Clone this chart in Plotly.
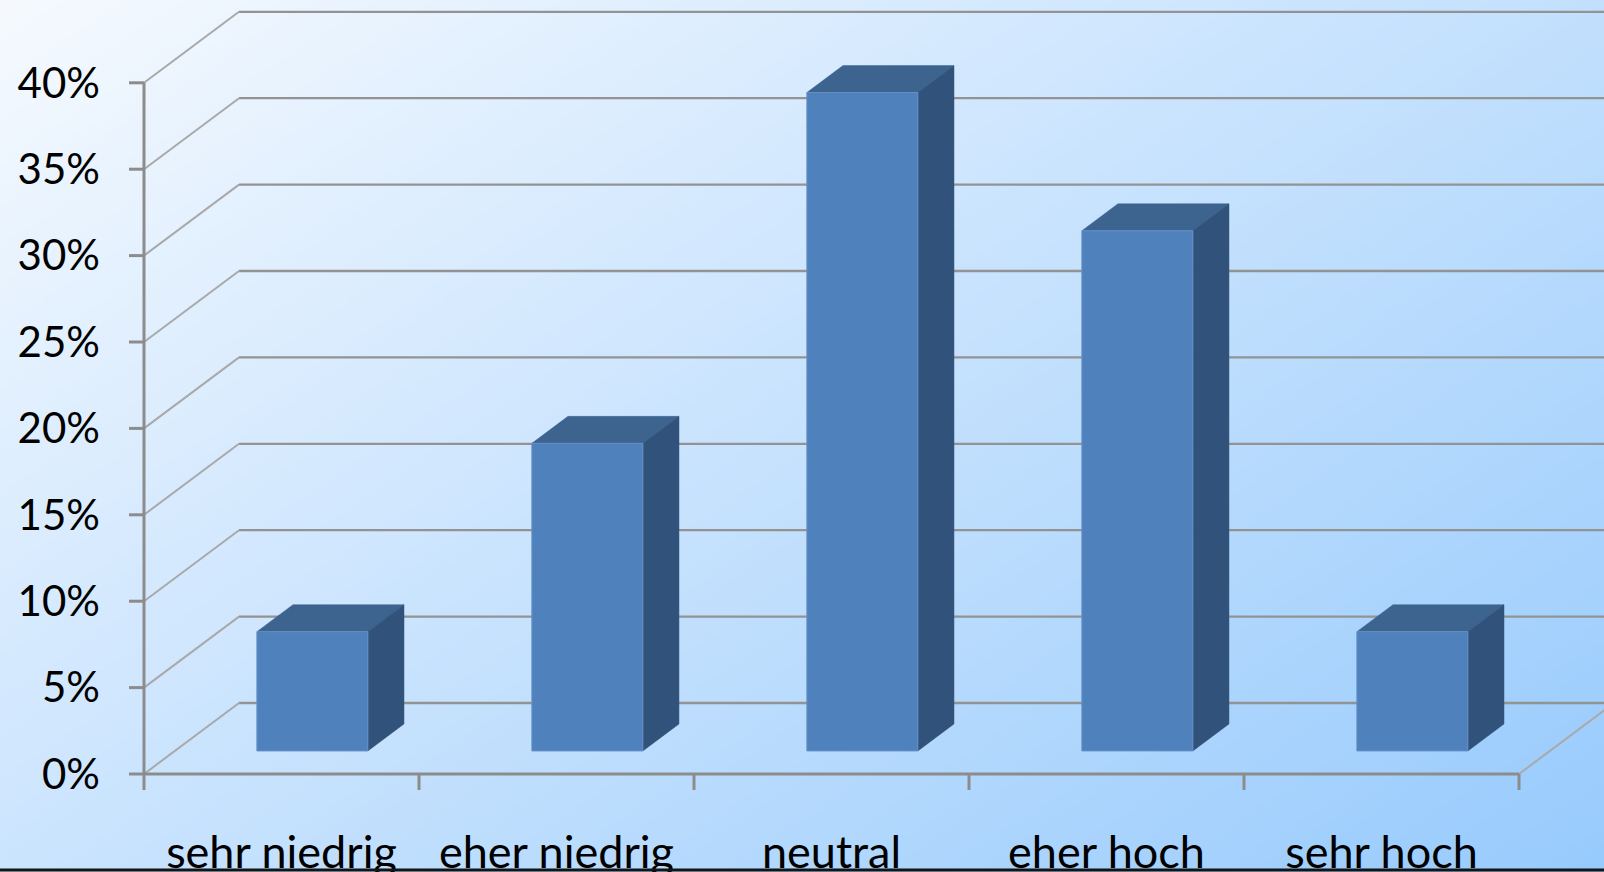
import base64
import struct
import zlib

import numpy as np
import plotly.graph_objects as go

# ---------------- data ----------------
categories = ["sehr niedrig", "eher niedrig", "neutral", "eher hoch", "sehr hoch"]
values = [6.9, 17.8, 38.1, 30.1, 6.9]  # percent
y_ticks = [0, 5, 10, 15, 20, 25, 30, 35, 40]
y_tick_labels = [f"{v}%" for v in y_ticks]

# ---------------- geometry / style ----------------
W, H = 1604, 872
PX_CAT = 275.0          # pixels per category
PX_PCT = 17.28          # pixels per percent
ORIGIN_X, ORIGIN_Y = 144, 774
PLOT_L, PLOT_R, PLOT_T, PLOT_B = 118, 1604, 0, 800
WALL_DX = 95 / PX_CAT   # depth offset of the back wall (in axis units)
WALL_DY = 71 / PX_PCT
BAR_D0, BAR_D1 = 0.325, 0.705   # front / back depth of the bars (fraction of wall depth)
BAR_W = 111 / PX_CAT

GRID_COLOR = "#939393"
DIAG_COLOR = "#A9A9A9"
AXIS_COLOR = "#8C8C8C"
FRONT_COLOR = "#4F81BD"
TOP_COLOR = "#3D638F"
SIDE_COLOR = "#31527A"

x_range = [(PLOT_L - ORIGIN_X) / PX_CAT, (PLOT_R - ORIGIN_X) / PX_CAT]
y_range = [(ORIGIN_Y - PLOT_B) / PX_PCT, (ORIGIN_Y - PLOT_T) / PX_PCT]
n = len(categories)


def png_data_uri(arr):
    h, w, _ = arr.shape
    raw = b"".join(b"\x00" + arr[r].astype(np.uint8).tobytes() for r in range(h))

    def chunk(tag, data):
        c = struct.pack(">I", len(data)) + tag + data
        return c + struct.pack(">I", zlib.crc32(tag + data) & 0xFFFFFFFF)

    png = (b"\x89PNG\r\n\x1a\n"
           + chunk(b"IHDR", struct.pack(">IIBBBBB", w, h, 8, 2, 0, 0, 0))
           + chunk(b"IDAT", zlib.compress(raw, 9))
           + chunk(b"IEND", b""))
    return "data:image/png;base64," + base64.b64encode(png).decode()


# diagonal background gradient
gw, gh = 320, 174
gx = np.linspace(0, 1, gw)[None, :]
gy = np.linspace(0, 1, gh)[:, None]
t = 0.55 * gx + 0.45 * gy
c0 = np.array([246, 250, 255], dtype=float)
c1 = np.array([152, 203, 253], dtype=float)
grad = c0[None, None, :] + (c1 - c0)[None, None, :] * t[:, :, None]
bg_uri = png_data_uri(np.clip(grad, 0, 255))

fig = go.Figure()


def seg_trace(xs, ys, color, width):
    fig.add_trace(go.Scatter(x=xs, y=ys, mode="lines",
                             line=dict(color=color, width=width),
                             hoverinfo="skip", showlegend=False))


# back wall gridlines
bx, by = [], []
for v in y_ticks:
    bx += [WALL_DX, n + WALL_DX, None]
    by += [v + WALL_DY, v + WALL_DY, None]
seg_trace(bx, by, GRID_COLOR, 2.3)

# left wall diagonals + floor right edge
dx, dy = [], []
for v in y_ticks:
    dx += [0, WALL_DX, None]
    dy += [v, v + WALL_DY, None]
dx += [n, n + WALL_DX, None]
dy += [0, WALL_DY, None]
seg_trace(dx, dy, DIAG_COLOR, 2)

# front axes lines
seg_trace([0, 0, None, 0, n], [y_ticks[0], y_ticks[-1], None, 0, 0], AXIS_COLOR, 3)

# tick marks
tx, ty = [], []
for v in y_ticks:
    tx += [-15 / PX_CAT, 0, None]
    ty += [v, v, None]
for i in range(n + 1):
    tx += [i, i, None]
    ty += [0, -16 / PX_PCT, None]
seg_trace(tx, ty, AXIS_COLOR, 3)

# 3D bars
for i, val in enumerate(values):
    fx = i + 0.5 + BAR_D0 * WALL_DX
    x0, x1 = fx - BAR_W / 2, fx + BAR_W / 2
    base = BAR_D0 * WALL_DY
    top = base + val
    ddx = (BAR_D1 - BAR_D0) * WALL_DX
    ddy = (BAR_D1 - BAR_D0) * WALL_DY
    # top face
    fig.add_trace(go.Scatter(
        x=[x0, x0 + ddx, x1 + ddx, x1, x0], y=[top, top + ddy, top + ddy, top, top],
        mode="lines", fill="toself", fillcolor=TOP_COLOR,
        line=dict(color=TOP_COLOR, width=0.5), hoverinfo="skip", showlegend=False))
    # side face
    fig.add_trace(go.Scatter(
        x=[x1, x1 + ddx, x1 + ddx, x1, x1], y=[base, base + ddy, top + ddy, top, base],
        mode="lines", fill="toself", fillcolor=SIDE_COLOR,
        line=dict(color=SIDE_COLOR, width=0.5), hoverinfo="skip", showlegend=False))
    # front face
    fig.add_trace(go.Scatter(
        x=[x0, x1, x1, x0, x0], y=[base, base, top, top, base],
        mode="lines", fill="toself", fillcolor=FRONT_COLOR,
        line=dict(color="#6690C6", width=1), hoverinfo="text",
        text=f"{categories[i]}: {val}%", showlegend=False))

plot_w = PLOT_R - PLOT_L
plot_h = PLOT_B - PLOT_T

fig.update_layout(
    width=W, height=H,
    margin=dict(l=PLOT_L, r=W - PLOT_R, t=PLOT_T, b=H - PLOT_B, pad=0, autoexpand=False),
    paper_bgcolor="rgba(0,0,0,0)", plot_bgcolor="rgba(0,0,0,0)",
    showlegend=False,
    font=dict(family="Lato, Carlito, sans-serif", color="#000000"),
    xaxis=dict(range=x_range, showgrid=False, zeroline=False, showline=False,
               automargin=False,
               tickmode="array", tickvals=[i + 0.5 for i in range(n)], ticktext=categories,
               ticks="", tickfont=dict(size=45, color="#000000"),
               ticklabelstandoff=22, fixedrange=True),
    yaxis=dict(range=y_range, showgrid=False, zeroline=False, showline=False,
               automargin=False,
               tickmode="array", tickvals=y_ticks, ticktext=y_tick_labels,
               ticks="", tickfont=dict(size=42, color="#000000"),
               ticklabelstandoff=17, fixedrange=True),
    images=[dict(source=bg_uri, xref="paper", yref="paper",
                 x=-PLOT_L / plot_w, y=1 + PLOT_T / plot_h,
                 sizex=W / plot_w, sizey=H / plot_h,
                 xanchor="left", yanchor="top", sizing="stretch", layer="below")],
    shapes=[dict(type="line", xref="paper", yref="paper",
                 x0=-PLOT_L / plot_w, x1=1,
                 y0=(PLOT_B - 870) / plot_h, y1=(PLOT_B - 870) / plot_h,
                 line=dict(color="#151515", width=3))],
)

fig.write_html("out.html")
